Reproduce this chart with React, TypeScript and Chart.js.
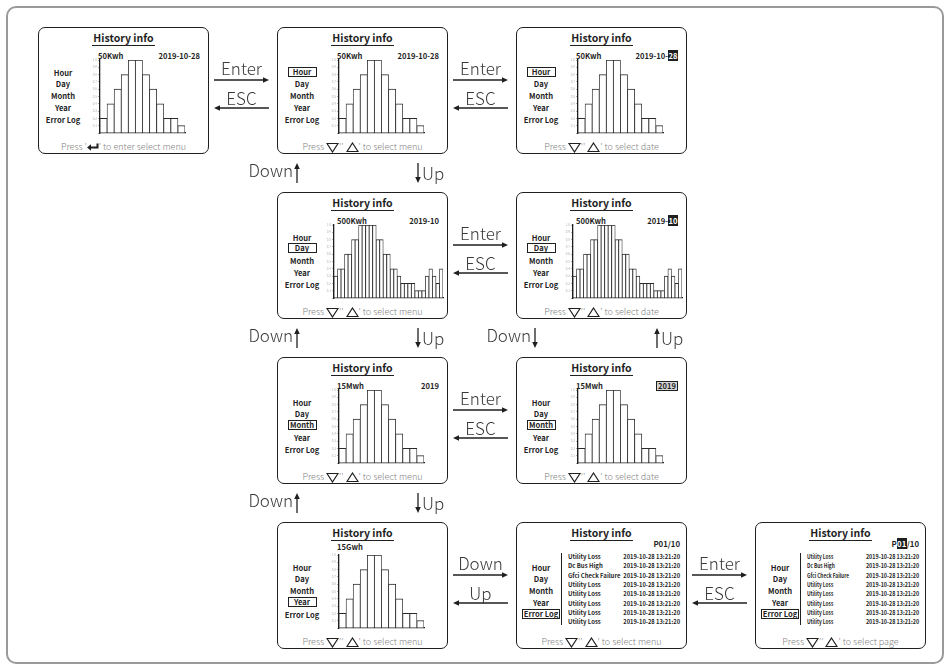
import React, { useEffect, useRef } from 'react';
import { Chart, registerables } from 'chart.js';

Chart.register(...registerables);

// ---------------- data ----------------
const hourSlots = ['0', '2', '4', '6', '8', '10', '12', '14', '16', '18', '20', '22'];
const hourEnergy = [0.2, 0.4, 0.6, 0.8, 1.0, 1.0, 0.8, 0.6, 0.4, 0.2, 0.2, 0.1];
const hourEdgeMax = 24;
const hourEdgeStep = 2;

const dayOfMonth = ['1', '2', '3', '4', '5', '6', '7', '8', '9', '10', '11', '12', '13', '14', '15', '16',
  '17', '18', '19', '20', '21', '22', '23', '24', '25', '26', '27', '28', '29', '30', '31'];
const dayEnergy = [0.3, 0.4, 0.4, 0.6, 0.6, 0.8, 0.8, 1.0, 1.0, 1.0, 1.0, 1.0, 0.8, 0.8, 0.6, 0.6,
  0.4, 0.4, 0.3, 0.2, 0.2, 0.2, 0.2, 0.1, 0.1, 0.1, 0.3, 0.4, 0.3, 0.2, 0.4];

const monthOfYear = ['1', '2', '3', '4', '5', '6', '7', '8', '9', '10', '11', '12'];
const monthEnergy = [0.2, 0.4, 0.6, 0.8, 1.0, 1.0, 0.8, 0.6, 0.4, 0.2, 0.2, 0.1];
const monthEdgeMax = 12;
const monthEdgeStep = 1;

const yearSlots = ['1', '2', '3', '4', '5', '6', '7', '8', '9', '10', '11', '12'];
const yearEnergy = [0.2, 0.4, 0.6, 0.8, 1.0, 1.0, 0.8, 0.6, 0.4, 0.2, 0.2, 0.1];
const yearEdgeMax = 12;
const yearEdgeStep = 1;

const yTickMax = 1.0;
const yTickStep = 0.1;

const menuItems = ['Hour', 'Day', 'Month', 'Year', 'Error Log'];
const errorNames = ['Utility Loss', 'Dc Bus High', 'Gfci Check Failure', 'Utility Loss',
  'Utility Loss', 'Utility Loss', 'Utility Loss', 'Utility Loss'];
const errorTimes = ['2019-10-28 13:21:20', '2019-10-28 13:21:20', '2019-10-28 13:21:20', '2019-10-28 13:21:20',
  '2019-10-28 13:21:20', '2019-10-28 13:21:20', '2019-10-28 13:21:20', '2019-10-28 13:21:20'];

// ---------------- style ----------------
const FONT = "'Noto Sans CJK SC', 'Noto Sans CJK JP', 'Noto Sans', sans-serif";
const INK = '#1f1f1f';
const PW = 171;
const PH = 127;
const MENU_Y = [45, 56, 68, 80, 92];
const colX = [38, 277, 516, 755];
const rowY = [27, 192, 357, 522];

type BarsProps = {
  categories: string[];
  values: number[];
  edgeMax?: number;
  edgeStep?: number;
  left: number;
  top: number;
  plotW: number;
  plotH: number;
};

function MiniBars({ categories, values, edgeMax, edgeStep, left, top, plotW, plotH }: BarsProps) {
  const ref = useRef<HTMLCanvasElement>(null);
  const yW = 8, xH = 6, padT = 4, padR = 4;
  useEffect(() => {
    const c = ref.current;
    if (!c) return;
    const edge = edgeMax !== undefined;
    const scales: any = {
      x: {
        type: 'category',
        offset: true,
        grid: { display: false },
        border: { display: true, color: INK, width: 1.2 },
        ticks: edge
          ? { display: false }
          : { display: true, font: { family: FONT, size: 2.4 }, color: '#b0b0b0', padding: 1, maxRotation: 0, minRotation: 0, autoSkip: false },
        afterFit: (s: any) => { s.height = edge ? 0 : xH; },
      },
      y: {
        min: 0,
        max: yTickMax,
        ticks: {
          stepSize: yTickStep,
          font: { family: FONT, size: 3 },
          color: '#b0b0b0',
          padding: 1,
          callback: (v: any) => (Number(v) === 0 ? '' : Number(v).toFixed(1)),
        },
        grid: { display: true, drawOnChartArea: false, drawTicks: true, tickLength: 2, lineWidth: 0.8, color: '#9a9a9a' },
        border: { display: true, color: INK, width: 1.3 },
        afterFit: (s: any) => { s.width = yW; },
      },
    };
    if (edge) {
      scales.xt = {
        type: 'linear',
        position: 'bottom',
        min: 0,
        max: edgeMax,
        ticks: { stepSize: edgeStep, font: { family: FONT, size: 3 }, color: '#b0b0b0', padding: 1, maxRotation: 0, minRotation: 0, autoSkip: false },
        grid: { display: false },
        border: { display: false },
        afterFit: (s: any) => { s.height = xH; },
      };
    }
    const chart = new Chart(c, {
      type: 'bar',
      data: {
        labels: categories,
        datasets: [{
          data: values,
          backgroundColor: '#ffffff',
          borderColor: '#2a2a2a',
          borderWidth: { top: 1, left: 0.8, right: 0.8, bottom: 0 } as any,
          barPercentage: 1,
          categoryPercentage: 1,
        }],
      },
      options: {
        responsive: false,
        animation: false,
        events: [],
        layout: { padding: { top: padT, right: padR, left: 0, bottom: 0 } },
        plugins: { legend: { display: false }, tooltip: { enabled: false } },
        scales,
      } as any,
    });
    return () => chart.destroy();
  }, []);
  return (
    <canvas
      ref={ref}
      width={yW + plotW + padR}
      height={padT + plotH + xH}
      style={{ position: 'absolute', left: left - yW, top: top - padT }}
    />
  );
}

function Inv({ children }: { children: React.ReactNode }) {
  return <span style={{ background: INK, color: '#fff', padding: '0 0.5px' }}>{children}</span>;
}
function Boxed({ children }: { children: React.ReactNode }) {
  return (
    <span style={{ border: `1px solid ${INK}`, background: '#d6d6d6', padding: '0 1px', lineHeight: '8px', display: 'inline-block' }}>
      {children}
    </span>
  );
}

function TriDown() {
  return (
    <svg width="13" height="11" style={{ display: 'block' }}>
      <polygon points="1,1.5 12,1.5 6.5,10" fill="none" stroke={INK} strokeWidth="1.2" />
    </svg>
  );
}
function TriUp() {
  return (
    <svg width="13" height="11" style={{ display: 'block' }}>
      <polygon points="6.5,1 12,9.5 1,9.5" fill="none" stroke={INK} strokeWidth="1.2" />
    </svg>
  );
}
function EnterIcon() {
  return (
    <svg width="12" height="8" style={{ display: 'block' }}>
      <path d="M10.5 0.5 V4.5 H3" fill="none" stroke={INK} strokeWidth="2" />
      <polygon points="0,4.5 4,1.2 4,7.8" fill={INK} />
    </svg>
  );
}

function Footer({ kind }: { kind: string }) {
  const base: React.CSSProperties = {
    position: 'absolute', left: 0, width: PW, top: 113, height: 14,
    display: 'flex', justifyContent: 'center', alignItems: 'center',
    fontSize: 9, color: '#808080', fontWeight: 300, whiteSpace: 'pre', lineHeight: '14px',
  };
  if (kind === 'enter') {
    return (
      <div style={base}>
        <span>Press '</span><EnterIcon /><span>' to enter select menu</span>
      </div>
    );
  }
  return (
    <div style={base}>
      <span>Press </span><TriDown /><span>'' </span><TriUp /><span>' to select {kind}</span>
    </div>
  );
}

type PanelProps = {
  x: number;
  y: number;
  sel?: number;
  unit?: string;
  unitTop?: number;
  date?: React.ReactNode;
  bars?: BarsProps;
  errors?: boolean;
  nameScale?: number;
  timeScale?: number;
  page?: React.ReactNode;
  footer: string;
};

function Panel({ x, y, sel, unit, unitTop = 24, date, bars, errors, nameScale = 1, timeScale = 1, page, footer }: PanelProps) {
  return (
    <div style={{ position: 'absolute', left: x, top: y, width: PW, height: PH, fontFamily: FONT, color: INK }}>
      <div style={{ position: 'absolute', left: 0, top: 0, width: PW, height: PH, boxSizing: 'border-box', border: `1.5px solid ${INK}`, borderRadius: 7, background: '#fff' }} />
      <div style={{ position: 'absolute', left: 0, top: 5, width: PW, display: 'flex', justifyContent: 'center' }}>
        <span style={{ display: 'block', fontSize: 10.5, fontWeight: 700, lineHeight: '12px', borderBottom: `1.3px solid ${INK}`, padding: '0 1px 1px' }}>
          History info
        </span>
      </div>
      {unit && (
        <div style={{ position: 'absolute', left: 60, top: unitTop, fontSize: 7.6, fontWeight: 700, lineHeight: '9px', whiteSpace: 'nowrap' }}>{unit}</div>
      )}
      {date && (
        <div style={{ position: 'absolute', right: 9, top: 24, fontSize: 7.6, fontWeight: 700, lineHeight: '9px', whiteSpace: 'nowrap' }}>{date}</div>
      )}
      {page && (
        <div style={{ position: 'absolute', right: 7, top: 17, fontSize: 7.8, fontWeight: 700, lineHeight: '9px', whiteSpace: 'nowrap' }}>{page}</div>
      )}
      {menuItems.map((m, i) => (
        <div key={m} style={{ position: 'absolute', left: 0, width: 50, top: MENU_Y[i] - 6, height: 12, display: 'flex', alignItems: 'center', justifyContent: 'center', fontSize: 7.6, fontWeight: 700, whiteSpace: 'nowrap' }}>
          {sel === i ? (
            <span style={{ border: `1px solid ${INK}`, padding: '0 1px', minWidth: 25, textAlign: 'center', lineHeight: '8.5px', display: 'inline-block' }}>{m}</span>
          ) : m}
        </div>
      ))}
      {bars && <MiniBars {...bars} />}
      {errors && (
        <>
          <div style={{ position: 'absolute', left: 45, top: 31, width: 1, height: 72, background: INK }} />
          {errorNames.map((n, i) => (
            <div key={'n' + i} style={{ position: 'absolute', left: 52, top: 35 + i * 9.3 - 5, fontSize: 6.3, fontWeight: 700, lineHeight: '10px', whiteSpace: 'nowrap', transform: `scaleX(${nameScale})`, transformOrigin: 'left center' }}>{n}</div>
          ))}
          {errorTimes.map((t, i) => (
            <div key={'t' + i} style={{ position: 'absolute', right: 7, top: 35 + i * 9.3 - 5, fontSize: 6.2, fontWeight: 700, lineHeight: '10px', whiteSpace: 'nowrap', transform: `scaleX(${timeScale})`, transformOrigin: 'right center' }}>{t}</div>
          ))}
        </>
      )}
      <Footer kind={footer} />
    </div>
  );
}

function hourBars(): BarsProps {
  return { categories: hourSlots, values: hourEnergy, edgeMax: hourEdgeMax, edgeStep: hourEdgeStep, left: 62, top: 33, plotW: 85, plotH: 73 };
}
function dayBars(): BarsProps {
  return { categories: dayOfMonth, values: dayEnergy, left: 57, top: 33, plotW: 109, plotH: 73 };
}
function monthBars(): BarsProps {
  return { categories: monthOfYear, values: monthEnergy, edgeMax: monthEdgeMax, edgeStep: monthEdgeStep, left: 62, top: 33, plotW: 85, plotH: 73 };
}
function yearBars(): BarsProps {
  return { categories: yearSlots, values: yearEnergy, edgeMax: yearEdgeMax, edgeStep: yearEdgeStep, left: 62, top: 33, plotW: 85, plotH: 73 };
}

const labelStyle: React.CSSProperties = {
  position: 'absolute', fontFamily: FONT, fontSize: 17, fontWeight: 300, color: '#3a3a3a', lineHeight: '20px', whiteSpace: 'nowrap',
};

function HPair({ col, row, top, bottom }: { col: number; row: number; top: string; bottom: string }) {
  const x1 = colX[col] + PW + 5;
  const x2 = colX[col + 1] - 8;
  const cx = (x1 + x2) / 2;
  const y = rowY[row];
  return (
    <>
      <div style={{ ...labelStyle, left: cx - 40, width: 80, textAlign: 'center', top: y + 31 }}>{top}</div>
      <div style={{ ...labelStyle, left: cx - 40, width: 80, textAlign: 'center', top: y + 61 }}>{bottom}</div>
    </>
  );
}

function hArrowShapes(col: number, row: number, key: string) {
  const x1 = colX[col] + PW + 5;
  const x2 = colX[col + 1] - 8;
  const ya = rowY[row] + 53;
  const yb = rowY[row] + 81;
  return (
    <g key={key}>
      <line x1={x1} y1={ya} x2={x2 - 4} y2={ya} stroke={INK} strokeWidth={1.3} />
      <polygon points={`${x2},${ya} ${x2 - 6},${ya - 2.8} ${x2 - 6},${ya + 2.8}`} fill={INK} />
      <line x1={x1 + 4} y1={yb} x2={x2} y2={yb} stroke={INK} strokeWidth={1.3} />
      <polygon points={`${x1},${yb} ${x1 + 6},${yb - 2.8} ${x1 + 6},${yb + 2.8}`} fill={INK} />
    </g>
  );
}

function vArrowShape(x: number, row: number, up: boolean, key: string) {
  const y1 = rowY[row] + 136;
  const y2 = rowY[row] + 156;
  return (
    <g key={key}>
      {up ? (
        <>
          <line x1={x} y1={y1 + 4} x2={x} y2={y2} stroke={INK} strokeWidth={1.3} />
          <polygon points={`${x},${y1} ${x - 2.8},${y1 + 6} ${x + 2.8},${y1 + 6}`} fill={INK} />
        </>
      ) : (
        <>
          <line x1={x} y1={y1} x2={x} y2={y2 - 4} stroke={INK} strokeWidth={1.3} />
          <polygon points={`${x},${y2} ${x - 2.8},${y2 - 6} ${x + 2.8},${y2 - 6}`} fill={INK} />
        </>
      )}
    </g>
  );
}

function VLabel({ x, row, text, side }: { x: number; row: number; text: string; side: 'left' | 'right' }) {
  const y = rowY[row];
  if (side === 'left') {
    return <div style={{ ...labelStyle, left: x - 4 - 60, width: 60, textAlign: 'right', top: y + 133 }}>{text}</div>;
  }
  return <div style={{ ...labelStyle, left: x + 4, top: y + 136 }}>{text}</div>;
}

export default function App() {
  const vLeftB = colX[1] + 20;
  const vRightB = colX[1] + 141;
  const vLeftC = colX[2] + 19;
  const vRightC = colX[2] + 141;
  return (
    <div style={{ position: 'absolute', left: 0, top: 0, width: 949, height: 669, background: '#fff', overflow: 'hidden' }}>
      <div style={{ position: 'absolute', left: 6, top: 6, width: 938, height: 658, boxSizing: 'border-box', border: '2px solid #9a9a9a', borderRadius: 10 }} />

      <Panel x={colX[0]} y={rowY[0]} unit="50Kwh" date="2019-10-28" bars={hourBars()} footer="enter" />
      <Panel x={colX[1]} y={rowY[0]} sel={0} unit="50Kwh" date="2019-10-28" bars={hourBars()} footer="menu" />
      <Panel x={colX[2]} y={rowY[0]} sel={0} unit="50Kwh" date={<>2019-10-<Inv>28</Inv></>} bars={hourBars()} footer="date" />

      <Panel x={colX[1]} y={rowY[1]} sel={1} unit="500Kwh" date="2019-10" bars={dayBars()} footer="menu" />
      <Panel x={colX[2]} y={rowY[1]} sel={1} unit="500Kwh" date={<>2019-<Inv>10</Inv></>} bars={dayBars()} footer="date" />

      <Panel x={colX[1]} y={rowY[2]} sel={2} unit="15Mwh" date="2019" bars={monthBars()} footer="menu" />
      <Panel x={colX[2]} y={rowY[2]} sel={2} unit="15Mwh" date={<Boxed>2019</Boxed>} bars={monthBars()} footer="date" />

      <Panel x={colX[1]} y={rowY[3]} sel={3} unit="15Gwh" unitTop={20} bars={yearBars()} footer="menu" />
      <Panel x={colX[2]} y={rowY[3]} sel={4} errors nameScale={0.95} timeScale={0.93} page="P01/10" footer="menu" />
      <Panel x={colX[3]} y={rowY[3]} sel={4} errors nameScale={0.76} timeScale={0.87} page={<>P<Inv>01</Inv>/10</>} footer="page" />

      <svg width={949} height={669} style={{ position: 'absolute', left: 0, top: 0, pointerEvents: 'none' }}>
        {hArrowShapes(0, 0, 'h00')}
        {hArrowShapes(1, 0, 'h10')}
        {hArrowShapes(1, 1, 'h11')}
        {hArrowShapes(1, 2, 'h12')}
        {hArrowShapes(1, 3, 'h13')}
        {hArrowShapes(2, 3, 'h23')}
        {vArrowShape(vLeftB, 0, true, 'v0a')}
        {vArrowShape(vRightB, 0, false, 'v0b')}
        {vArrowShape(vLeftB, 1, true, 'v1a')}
        {vArrowShape(vRightB, 1, false, 'v1b')}
        {vArrowShape(vLeftC, 1, false, 'v1c')}
        {vArrowShape(vRightC, 1, true, 'v1d')}
        {vArrowShape(vLeftB, 2, true, 'v2a')}
        {vArrowShape(vRightB, 2, false, 'v2b')}
      </svg>

      <HPair col={0} row={0} top="Enter" bottom="ESC" />
      <HPair col={1} row={0} top="Enter" bottom="ESC" />
      <HPair col={1} row={1} top="Enter" bottom="ESC" />
      <HPair col={1} row={2} top="Enter" bottom="ESC" />
      <HPair col={1} row={3} top="Down" bottom="Up" />
      <HPair col={2} row={3} top="Enter" bottom="ESC" />

      <VLabel x={vLeftB} row={0} text="Down" side="left" />
      <VLabel x={vRightB} row={0} text="Up" side="right" />
      <VLabel x={vLeftB} row={1} text="Down" side="left" />
      <VLabel x={vRightB} row={1} text="Up" side="right" />
      <VLabel x={vLeftC} row={1} text="Down" side="left" />
      <VLabel x={vRightC} row={1} text="Up" side="right" />
      <VLabel x={vLeftB} row={2} text="Down" side="left" />
      <VLabel x={vRightB} row={2} text="Up" side="right" />
    </div>
  );
}
